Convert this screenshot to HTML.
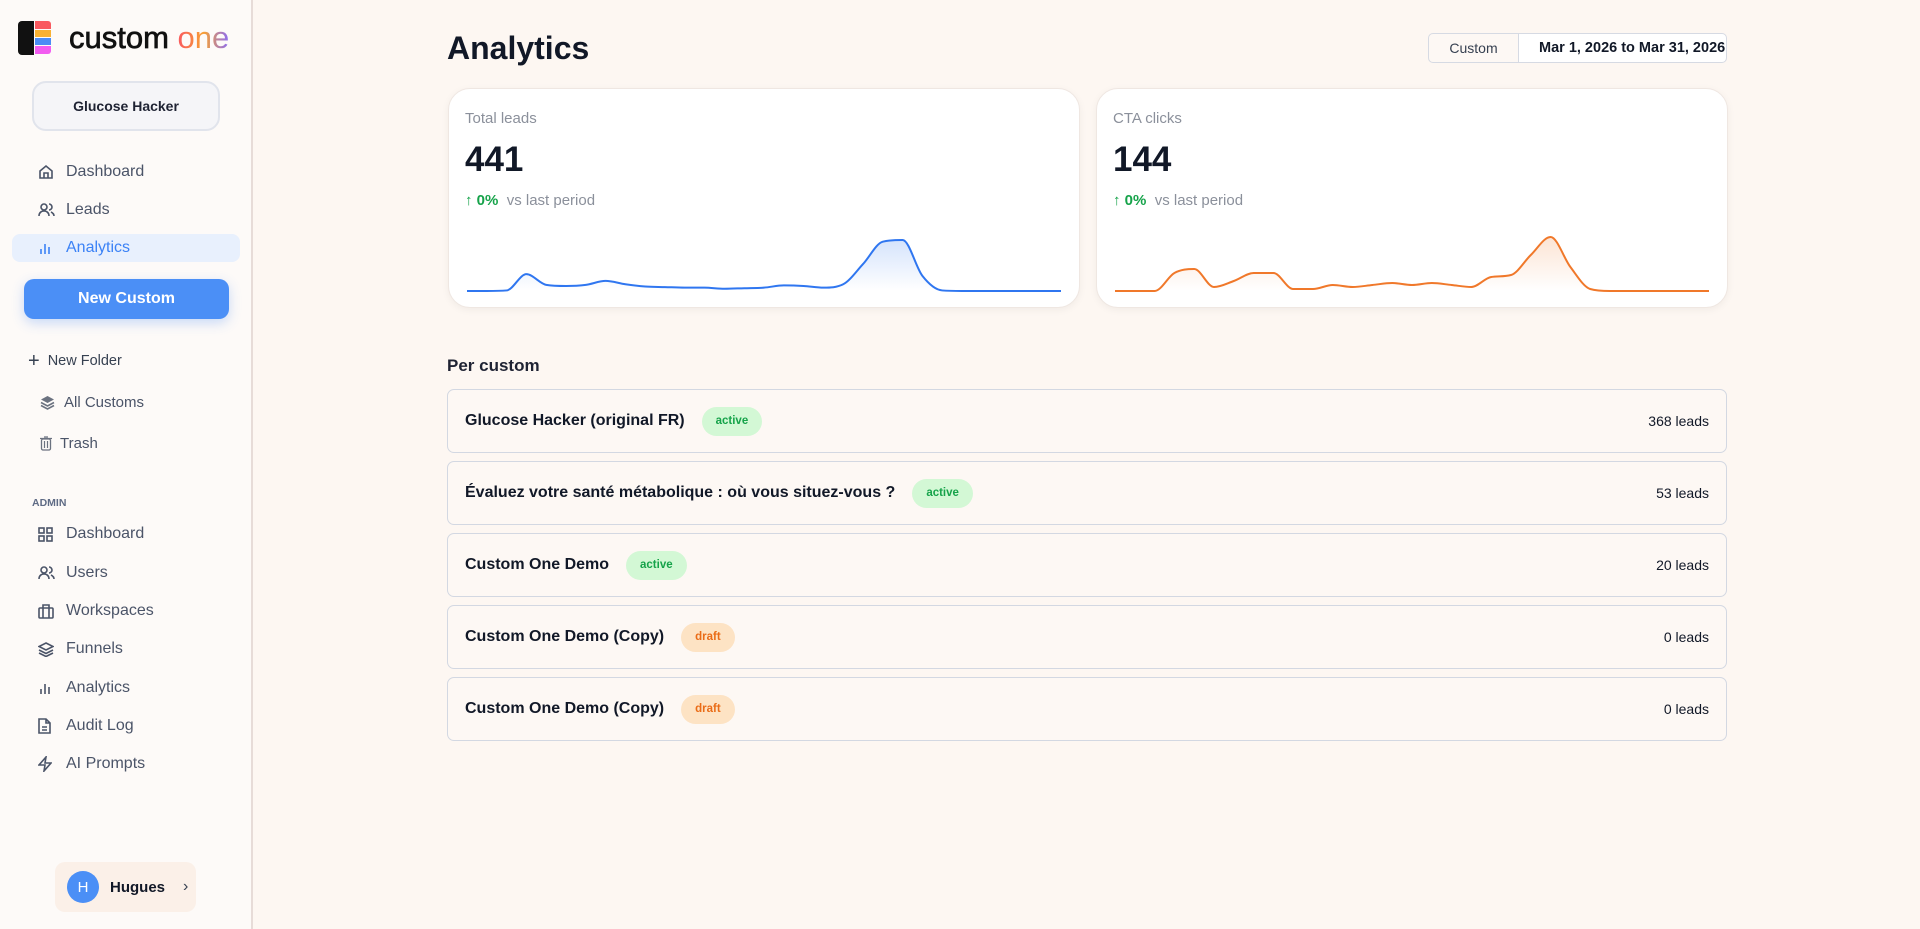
<!DOCTYPE html>
<html><head><meta charset="utf-8">
<style>
*{box-sizing:border-box;margin:0;padding:0}
body{width:1920px;height:929px;overflow:hidden;background:#fdf7f2;font-family:"Liberation Sans",sans-serif;color:#111827;position:relative}
.sidebar{position:absolute;left:0;top:0;width:253px;height:929px;background:#fdfaf8;border-right:2px solid #e7dcd8}
.abs{position:absolute}
.nav{position:absolute;left:12px;width:228px;height:30px;display:flex;align-items:center;font-size:16px;color:#4b5468}
.nav .ic{width:28px;margin-left:26px;display:flex;align-items:center}
.nav svg{stroke:#4b5468;fill:none;stroke-width:1.6}
.card{position:absolute;top:88px;width:632px;height:220px;background:#fff;border:1px solid #efe7e2;border-radius:22px;box-shadow:0 2px 8px rgba(0,0,0,.05)}
.card .lbl{position:absolute;left:16px;top:21px;font-size:15px;color:#8b909b}
.card .val{position:absolute;left:16px;top:51px;font-size:35px;font-weight:bold;color:#111827}
.card .chg{position:absolute;left:16px;top:103px;font-size:15px;color:#8b909b}
.card .chg b{color:#16a34a}
.row{position:absolute;left:447px;width:1280px;height:64px;border:1px solid #d3d8e2;border-radius:7px;background:#fdf8f4;display:flex;align-items:center;padding-left:17px}
.row .t{font-size:16px;font-weight:bold;color:#111827}
.badge{margin-left:17px;height:29px;padding:0 14px;border-radius:15px;font-size:11.5px;font-weight:bold;display:flex;align-items:center}
.active{background:#d3f8d5;color:#16a34a}
.draft{background:#fde3c4;color:#ea6c17}
.row .n{position:absolute;right:17px;font-size:14px;color:#111827}
</style></head><body>
<div class="sidebar">
  <div class="abs" style="left:18px;top:21px;width:34px;height:34px">
    <div class="abs" style="left:0;top:0;width:16px;height:34px;background:#111;border-radius:4px 0 0 4px"></div>
    <div class="abs" style="left:17px;top:0;width:16px;height:8px;background:#f9595f;border-radius:0 3px 0 0"></div>
    <div class="abs" style="left:17px;top:9px;width:16px;height:7px;background:#f8b133"></div>
    <div class="abs" style="left:17px;top:17px;width:16px;height:7px;background:#4b8cf5"></div>
    <div class="abs" style="left:17px;top:25px;width:16px;height:8px;background:#f25cf0;border-radius:0 0 3px 0"></div>
  </div>
  <div class="abs" style="left:69px;top:20px;font-size:31px;-webkit-text-stroke:0.7px #111;color:#111">custom <span style="-webkit-text-stroke:0;background:linear-gradient(90deg,#f9595f,#f8a033,#8b6cf5);-webkit-background-clip:text;color:transparent">one</span></div>
  <div class="abs" style="left:32px;top:81px;width:188px;height:50px;border:2px solid #e1e4ec;border-radius:14px;background:#f5f5f8;display:flex;align-items:center;justify-content:center;font-size:14px;font-weight:bold;color:#1f2333">Glucose Hacker</div>

  <div class="nav" style="top:157px"><span class="ic"><svg width="16" height="16" viewBox="0 0 16 16"><path d="M2 7l6-5 6 5v7H2z M6 14v-5h4v5"/></svg></span>Dashboard</div>
  <div class="nav" style="top:195px"><span class="ic"><svg width="17" height="16" viewBox="0 0 17 16"><circle cx="6" cy="5" r="3"/><path d="M1 14c0-3 2-5 5-5s5 2 5 5M11 2a3 3 0 010 6M13 10c2 1 3 2 3 4"/></svg></span>Leads</div>
  <div class="nav" style="top:234px;height:28px;background:#e8f0fd;border-radius:8px;color:#3b82f6"><span class="ic"><svg width="14" height="14" viewBox="0 0 14 14" style="stroke:#3b82f6"><path d="M3 13V8M7 13V3M11 13V6"/></svg></span>Analytics</div>
  <div class="abs" style="left:24px;top:279px;width:205px;height:40px;background:#4b8ff6;border-radius:10px;color:#fff;font-size:16px;font-weight:bold;display:flex;align-items:center;justify-content:center;box-shadow:0 4px 12px rgba(75,143,246,.3)">New Custom</div>

  <div class="abs" style="left:28px;top:352px;font-size:14.5px;color:#374151;display:flex;align-items:center"><span style="font-size:20px;margin-right:8px;line-height:18px">+</span>New Folder</div>
  <div class="abs" style="left:40px;top:394px;font-size:15px;color:#4b5468;display:flex;align-items:center"><svg width="15" height="15" viewBox="0 0 15 15" style="margin-right:9px"><path d="M7.5 1L14 4.5 7.5 8 1 4.5z" fill="#6b7280"/><path d="M1 7.5l6.5 3.5 6.5-3.5M1 10.5l6.5 3.5 6.5-3.5" stroke="#6b7280" fill="none" stroke-width="1.6"/></svg>All Customs</div>
  <div class="abs" style="left:40px;top:435px;font-size:15px;color:#4b5468;display:flex;align-items:center"><svg width="12" height="15" viewBox="0 0 12 15" style="margin-right:8px"><rect x="1.5" y="3" width="9" height="11" rx="1.5" stroke="#6b7280" fill="none" stroke-width="1.3"/><path d="M0 2.5h12M4 1h4M4.5 5v7M7.5 5v7" stroke="#6b7280" stroke-width="1.2"/></svg>Trash</div>

  <div class="abs" style="left:32px;top:497px;font-size:10.5px;font-weight:bold;color:#5f6b85">ADMIN</div>
  <div class="nav" style="top:519px"><span class="ic"><svg width="15" height="15" viewBox="0 0 15 15"><rect x="1" y="1" width="5" height="5"/><rect x="9" y="1" width="5" height="5"/><rect x="1" y="9" width="5" height="5"/><rect x="9" y="9" width="5" height="5"/></svg></span>Dashboard</div>
  <div class="nav" style="top:558px"><span class="ic"><svg width="17" height="16" viewBox="0 0 17 16"><circle cx="6" cy="5" r="3"/><path d="M1 14c0-3 2-5 5-5s5 2 5 5M11 2a3 3 0 010 6M13 10c2 1 3 2 3 4"/></svg></span>Users</div>
  <div class="nav" style="top:596px"><span class="ic"><svg width="16" height="15" viewBox="0 0 16 15"><rect x="1" y="4" width="14" height="10" rx="1"/><path d="M5 4V1h6v3M5 4v10M11 4v10"/></svg></span>Workspaces</div>
  <div class="nav" style="top:634px"><span class="ic"><svg width="16" height="15" viewBox="0 0 16 15"><path d="M8 1l7 3.5L8 8 1 4.5zM1 8l7 3.5L15 8M1 11l7 3.5 7-3.5"/></svg></span>Funnels</div>
  <div class="nav" style="top:673px"><span class="ic"><svg width="14" height="14" viewBox="0 0 14 14"><path d="M3 13V8M7 13V3M11 13V6"/></svg></span>Analytics</div>
  <div class="nav" style="top:711px"><span class="ic"><svg width="13" height="16" viewBox="0 0 13 16"><path d="M1 1h7l4 4v10H1zM8 1v4h4M4 9h5M4 12h5"/></svg></span>Audit Log</div>
  <div class="nav" style="top:749px"><span class="ic"><svg width="14" height="16" viewBox="0 0 14 16"><path d="M8 1L1 9h6l-1 6 7-8H7z"/></svg></span>AI Prompts</div>

  <div class="abs" style="left:55px;top:862px;width:141px;height:50px;background:#fbf0e8;border-radius:10px;display:flex;align-items:center">
    <div style="margin-left:12px;width:32px;height:32px;border-radius:50%;background:#4b8ff6;color:#fff;font-size:15px;display:flex;align-items:center;justify-content:center">H</div>
    <span style="margin-left:11px;font-size:15px;font-weight:bold;color:#111827">Hugues</span>
    <span style="margin-left:18px;font-size:16px;color:#374151">›</span>
  </div>
</div>

<div class="abs" style="left:447px;top:30px;font-size:32px;font-weight:bold;color:#111827">Analytics</div>
<div class="abs" style="left:1428px;top:33px;width:91px;height:30px;border:1px solid #d6dae3;border-radius:5px 0 0 5px;background:#fdf8f4;font-size:14px;color:#374151;display:flex;align-items:center;justify-content:center">Custom</div>
<div class="abs" style="left:1518px;top:33px;width:209px;height:30px;border:1px solid #d6dae3;border-radius:0 5px 5px 0;background:#fff;font-size:14.5px;font-weight:bold;color:#111827;display:flex;align-items:center;padding-left:20px;overflow:hidden;white-space:nowrap">Mar 1, 2026 to Mar 31, 2026</div>

<div class="card" style="left:448px">
  <div class="lbl">Total leads</div>
  <div class="val">441</div>
  <div class="chg"><b>↑ 0%</b>&nbsp; vs last period</div>
  <svg id="c1" class="abs" style="left:0;top:0" width="632" height="220"></svg>
</div>
<div class="card" style="left:1096px">
  <div class="lbl">CTA clicks</div>
  <div class="val">144</div>
  <div class="chg"><b>↑ 0%</b>&nbsp; vs last period</div>
  <svg id="c2" class="abs" style="left:0;top:0" width="632" height="220"></svg>
</div>

<div class="abs" style="left:447px;top:356px;font-size:17px;font-weight:bold;color:#1f2333">Per custom</div>
<div class="row" style="top:389px"><span class="t">Glucose Hacker (original FR)</span><span class="badge active">active</span><span class="n">368 leads</span></div>
<div class="row" style="top:461px"><span class="t">Évaluez votre santé métabolique : où vous situez-vous ?</span><span class="badge active">active</span><span class="n">53 leads</span></div>
<div class="row" style="top:533px"><span class="t">Custom One Demo</span><span class="badge active">active</span><span class="n">20 leads</span></div>
<div class="row" style="top:605px"><span class="t">Custom One Demo (Copy)</span><span class="badge draft">draft</span><span class="n">0 leads</span></div>
<div class="row" style="top:677px"><span class="t">Custom One Demo (Copy)</span><span class="badge draft">draft</span><span class="n">0 leads</span></div>

<script>
const days = Array.from({length:31},(_,i)=>'Mar '+(i+1));
const leadsSeries = [0,0,1,30,11,9,11,18,12,8,7,6,6,4,5,6,10,9,6,12,48,88,91,27,1,0,0,0,0,0,0];
const clicksSeries = [0,0,0,9,11,2,5,9,9,1,1,3,2,3,4,3,4,3,2,7,8,18,27,12,1,0,0,0,0,0,0];
const NS='http://www.w3.org/2000/svg';
function mono(pts){
  const n=pts.length, d=[], m=[];
  for(let i=0;i<n-1;i++) d.push((pts[i+1][1]-pts[i][1])/(pts[i+1][0]-pts[i][0]));
  m[0]=d[0]; m[n-1]=d[n-2];
  for(let i=1;i<n-1;i++) m[i]=(d[i-1]*d[i]<=0)?0:(d[i-1]+d[i])/2;
  for(let i=0;i<n-1;i++){ if(d[i]===0){m[i]=0;m[i+1]=0;continue;}
    const a=m[i]/d[i], b=m[i+1]/d[i], s=a*a+b*b; if(s>9){const t=3/Math.sqrt(s);m[i]=t*a*d[i];m[i+1]=t*b*d[i];}}
  let p='M'+pts[0][0]+','+pts[0][1];
  for(let i=0;i<n-1;i++){const h=(pts[i+1][0]-pts[i][0])/3;
    p+=` C${pts[i][0]+h},${pts[i][1]+m[i]*h} ${pts[i+1][0]-h},${pts[i+1][1]-m[i+1]*h} ${pts[i+1][0]},${pts[i+1][1]}`;}
  return p;
}
function draw(id,data,color,topY,gid){
  const svg=document.getElementById(id);
  const x0=18,x1=612,base=202,max=Math.max(...data);
  const xs=i=>x0+(x1-x0)*i/(data.length-1);
  const ys=v=>base-(base-topY)*v/max;
  const pts=data.map((v,i)=>[xs(i),ys(v)]);
  const line=mono(pts);
  const defs=document.createElementNS(NS,'defs');
  defs.innerHTML=`<linearGradient id="${gid}" x1="0" y1="0" x2="0" y2="1"><stop offset="0" stop-color="${color}" stop-opacity="0.2"/><stop offset="1" stop-color="${color}" stop-opacity="0"/></linearGradient>`;
  svg.appendChild(defs);
  const area=document.createElementNS(NS,'path');
  area.setAttribute('d',line+` L${x1},${base} L${x0},${base} Z`);
  area.setAttribute('fill',`url(#${gid})`);
  
  
  svg.appendChild(area);
  const p=document.createElementNS(NS,'path');
  p.setAttribute('d',line);p.setAttribute('fill','none');p.setAttribute('stroke',color);p.setAttribute('stroke-width','2');
  
  
  svg.appendChild(p);
}
draw('c1',leadsSeries,'#2f76f0',151,'g1');
draw('c2',clicksSeries,'#f0782a',148,'g2');
</script>
</body></html>
